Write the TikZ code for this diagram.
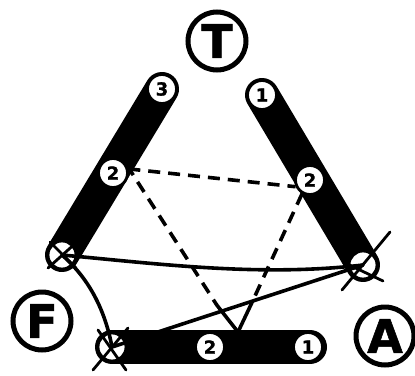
\documentclass[tikz,border=0pt]{standalone}
\usepackage{fontspec}
\setmainfont{DejaVu Sans}
\newfontfamily\heavyfont{DejaVu Sans Bold}[FakeBold=1.2]
\usetikzlibrary{calc}
\begin{document}
\begin{tikzpicture}[x=1pt,y=-1pt,
  bar/.style={line width=34pt, line cap=round},
  num/.style={circle, draw, line width=2.8pt, fill=white, minimum size=29pt, inner sep=0pt, font=\heavyfont\fontsize{18}{18}\selectfont},
  big/.style={circle, draw, line width=5pt, minimum size=58pt, inner sep=0pt, font=\heavyfont\fontsize{46}{46}\selectfont},
  endc/.style={circle, draw, line width=2.8pt, fill=white, minimum size=28pt, inner sep=0pt},
  link/.style={line width=3.6pt, line cap=round},
  dlink/.style={line width=3.6pt, dash pattern=on 12pt off 8pt},
  crossline/.style={line width=2.8pt, line cap=round}]
\useasboundingbox (0,0) rectangle (415,375);
% big letters
\node[big] (T) at (217,41) {T};
\node[big] (F) at (42,321) {F};
\node[big] (A) at (385,336) {A};
% bar end coordinates
\coordinate (L3c) at (162,89);
\coordinate (L1c) at (62,255);
\coordinate (R1c) at (262,95);
\coordinate (R3c) at (363,265);
\coordinate (B1c) at (112,347);
\coordinate (B3c) at (310,347);
\draw[bar] (L3c) -- (L1c);
\draw[bar] (R1c) -- (R3c);
\draw[bar] (B1c) -- (B3c);
% numbered circles
\node[num] (L3) at (162,89) {3};
\node[num] (L2) at (113,173) {2};
\node[num] (R1) at (262,95) {1};
\node[num] (R2) at (310,180) {2};
\node[num] (B2) at (210,347) {2};
\node[num] (B1) at (308,347) {1};
% crossed end circles
\node[endc] (LX) at (62,255) {};
\node[endc] (RX) at (363,265) {};
\node[endc] (BX) at (112,347) {};
% dashed links
\coordinate (V) at (238,332);
\draw[dlink] (L2.15) -- (R2.205);
\draw[dlink] (L2.30) -- ($(L2)!0.83!(V)$);
\draw[link] ($(L2)!0.83!(V)$) -- (V);
\draw[dlink] (R2.240) -- ($(R2)!0.8!(V)$);
\draw[link] ($(R2)!0.8!(V)$) -- (V);
% solid links
\draw[link] (LX.center) .. controls (160,264) and (260,277) .. (RX.center);
\draw[link] (RX.center) -- (BX.center);
\draw[link] (LX.center) .. controls (86,276) and (104,305) .. (BX.center);
% crosses
\draw[crossline] (48,268) -- (78,241);
\draw[crossline] (50,242) -- (76,268);
\draw[crossline] (390,232) -- (342,290);
\draw[crossline] (343,262) -- (383,281);
\draw[crossline] (93,370) -- (128,328);
\draw[crossline] (98,330) -- (126,370);
\end{tikzpicture}
\end{document}
